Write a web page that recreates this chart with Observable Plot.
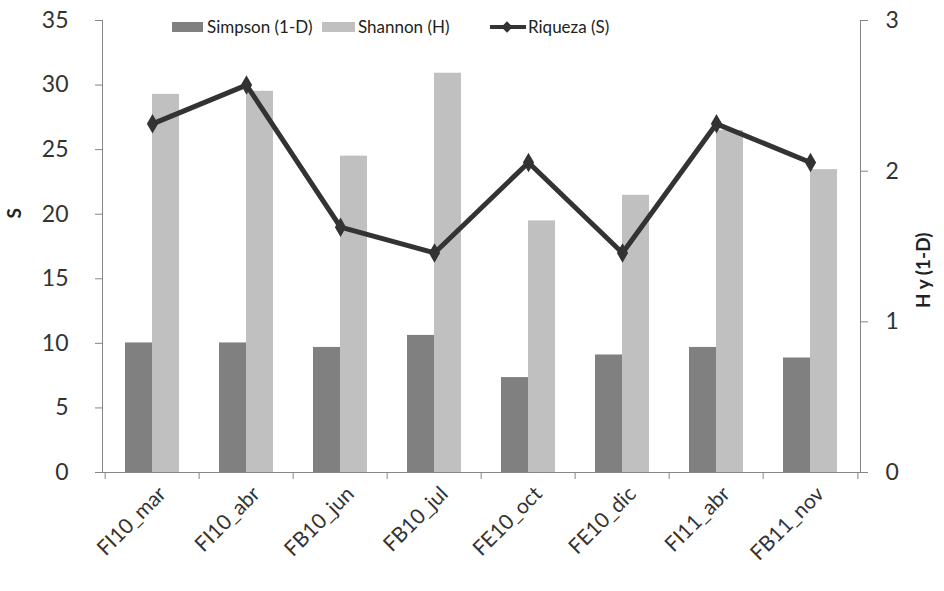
<!DOCTYPE html>
<html>
<head>
<meta charset="utf-8">
<script src="https://cdn.jsdelivr.net/npm/d3@7"></script>
<script src="https://cdn.jsdelivr.net/npm/@observablehq/plot@0.6"></script>
<style>
  html, body { margin: 0; padding: 0; background: #fff; }
  #wrap { position: relative; width: 944px; height: 591px; font-family: Lato, "Open Sans", sans-serif; }
  .lg { position: absolute; font-size: 17px; color: #222; white-space: nowrap; line-height: 1; }
  .sw { position: absolute; height: 10px; }
</style>
</head>
<body>
<div id="wrap"></div>
<script>
const categories = ["FI10_mar", "FI10_abr", "FB10_jun", "FB10_jul", "FE10_oct", "FE10_dic", "FI11_abr", "FB11_nov"];
const simpson = [0.86, 0.86, 0.83, 0.91, 0.63, 0.78, 0.83, 0.76];
const shannon = [2.51, 2.53, 2.10, 2.65, 1.67, 1.84, 2.27, 2.01];
const riqueza = [27, 30, 19, 17, 24, 17, 27, 24];
const leftTicks = [0, 5, 10, 15, 20, 25, 30, 35];
const rightTicks = [0, 1, 2, 3];
const seriesNames = ["Simpson (1-D)", "Shannon (H)", "Riqueza (S)"];
const leftTitle = "S";
const rightTitle = "H y (1-D)";

const leftMax = 35, rightMax = 3;
const k = leftMax / rightMax; // right axis value -> left axis units

const rows = categories.map((c, i) => ({cat: c, simpson: simpson[i], shannon: shannon[i], riqueza: riqueza[i]}));

const W = 944, H = 591;
const mL = 102, mR = 84, mT = 20, mB = 119;
const step = (W - mL - mR) / categories.length;
const bandPad = 0.43;
const half = step * (1 - bandPad) / 2;
const axisGray = "#868686";
const tickLen = 7;
const pxPerUnit = (H - mT - mB) / leftMax;
const font = "Lato, 'Open Sans', sans-serif";

const chart = Plot.plot({
  width: W, height: H,
  marginLeft: mL, marginRight: mR, marginTop: mT, marginBottom: mB,
  style: {fontFamily: font, background: "#fff"},
  x: {domain: categories, paddingInner: bandPad, paddingOuter: bandPad / 2, label: null, axis: null},
  y: {domain: [0, leftMax], label: null, axis: null},
  marks: [
    Plot.barY(rows, {x: "cat", y: d => d.simpson * k, fill: "#808080", insetRight: half}),
    Plot.barY(rows, {x: "cat", y: d => d.shannon * k, fill: "#c0c0c0", insetLeft: half}),
    Plot.frame({anchor: "left", stroke: axisGray}),
    Plot.frame({anchor: "right", stroke: axisGray}),
    Plot.ruleY([0], {stroke: axisGray}),
    Plot.ruleX(categories, {x: d => d, dx: -step / 2, y1: 0, y2: -tickLen / pxPerUnit, stroke: axisGray}),
    Plot.ruleX(categories.slice(-1), {x: d => d, dx: step / 2, y1: 0, y2: -tickLen / pxPerUnit, stroke: axisGray}),
    Plot.axisY(leftTicks, {anchor: "left", tickSize: tickLen, stroke: axisGray, fill: "#333", fontSize: 23, tickPadding: 27, label: null}),
    Plot.axisY(rightTicks.map(v => v * k), {anchor: "right", tickSize: tickLen, stroke: axisGray, fill: "#333", fontSize: 23, tickPadding: 18, tickFormat: d => String(Math.round(d / k)), label: null}),
    Plot.text(categories, {x: d => d, y: 0, text: d => d, rotate: -45, textAnchor: "end", dx: 10, dy: 18, fontSize: 21, fill: "#333"}),
    Plot.line(rows, {x: "cat", y: "riqueza", stroke: "#333", strokeWidth: 5}),
    Plot.dot(rows, {x: "cat", y: "riqueza", symbol: "diamond", r: 5, fill: "#333", stroke: "#333"}),
    Plot.text([leftTitle], {frameAnchor: "left", dx: -88, dy: -28, rotate: -90, fontWeight: "bold", fontSize: 19, fill: "#222"}),
    Plot.text([rightTitle], {frameAnchor: "right", dx: 63, dy: -14, rotate: -90, fontWeight: "bold", fontSize: 19, fill: "#222"})
  ]
});

const wrap = document.getElementById("wrap");
wrap.appendChild(chart);

function addSwatch(left, width, color, h) {
  const s = document.createElement("div");
  s.className = "sw";
  s.style.left = left + "px"; s.style.top = (27 - h / 2) + "px";
  s.style.width = width + "px"; s.style.height = h + "px";
  s.style.background = color;
  wrap.appendChild(s);
}
function addLabel(left, text) {
  const t = document.createElement("div");
  t.className = "lg";
  t.style.left = left + "px"; t.style.top = "18px";
  t.textContent = text;
  wrap.appendChild(t);
}
addSwatch(172, 31, "#808080", 10); addLabel(207, seriesNames[0]);
addSwatch(322, 33, "#c0c0c0", 10); addLabel(358, seriesNames[1]);
addSwatch(490, 36, "#333", 4);
const dm = document.createElement("div");
dm.className = "sw"; dm.style.left = "503px"; dm.style.top = "23px"; dm.style.width = "8px"; dm.style.height = "8px";
dm.style.background = "#333"; dm.style.transform = "rotate(45deg)";
wrap.appendChild(dm);
addLabel(528, seriesNames[2]);
</script>
</body>
</html>
